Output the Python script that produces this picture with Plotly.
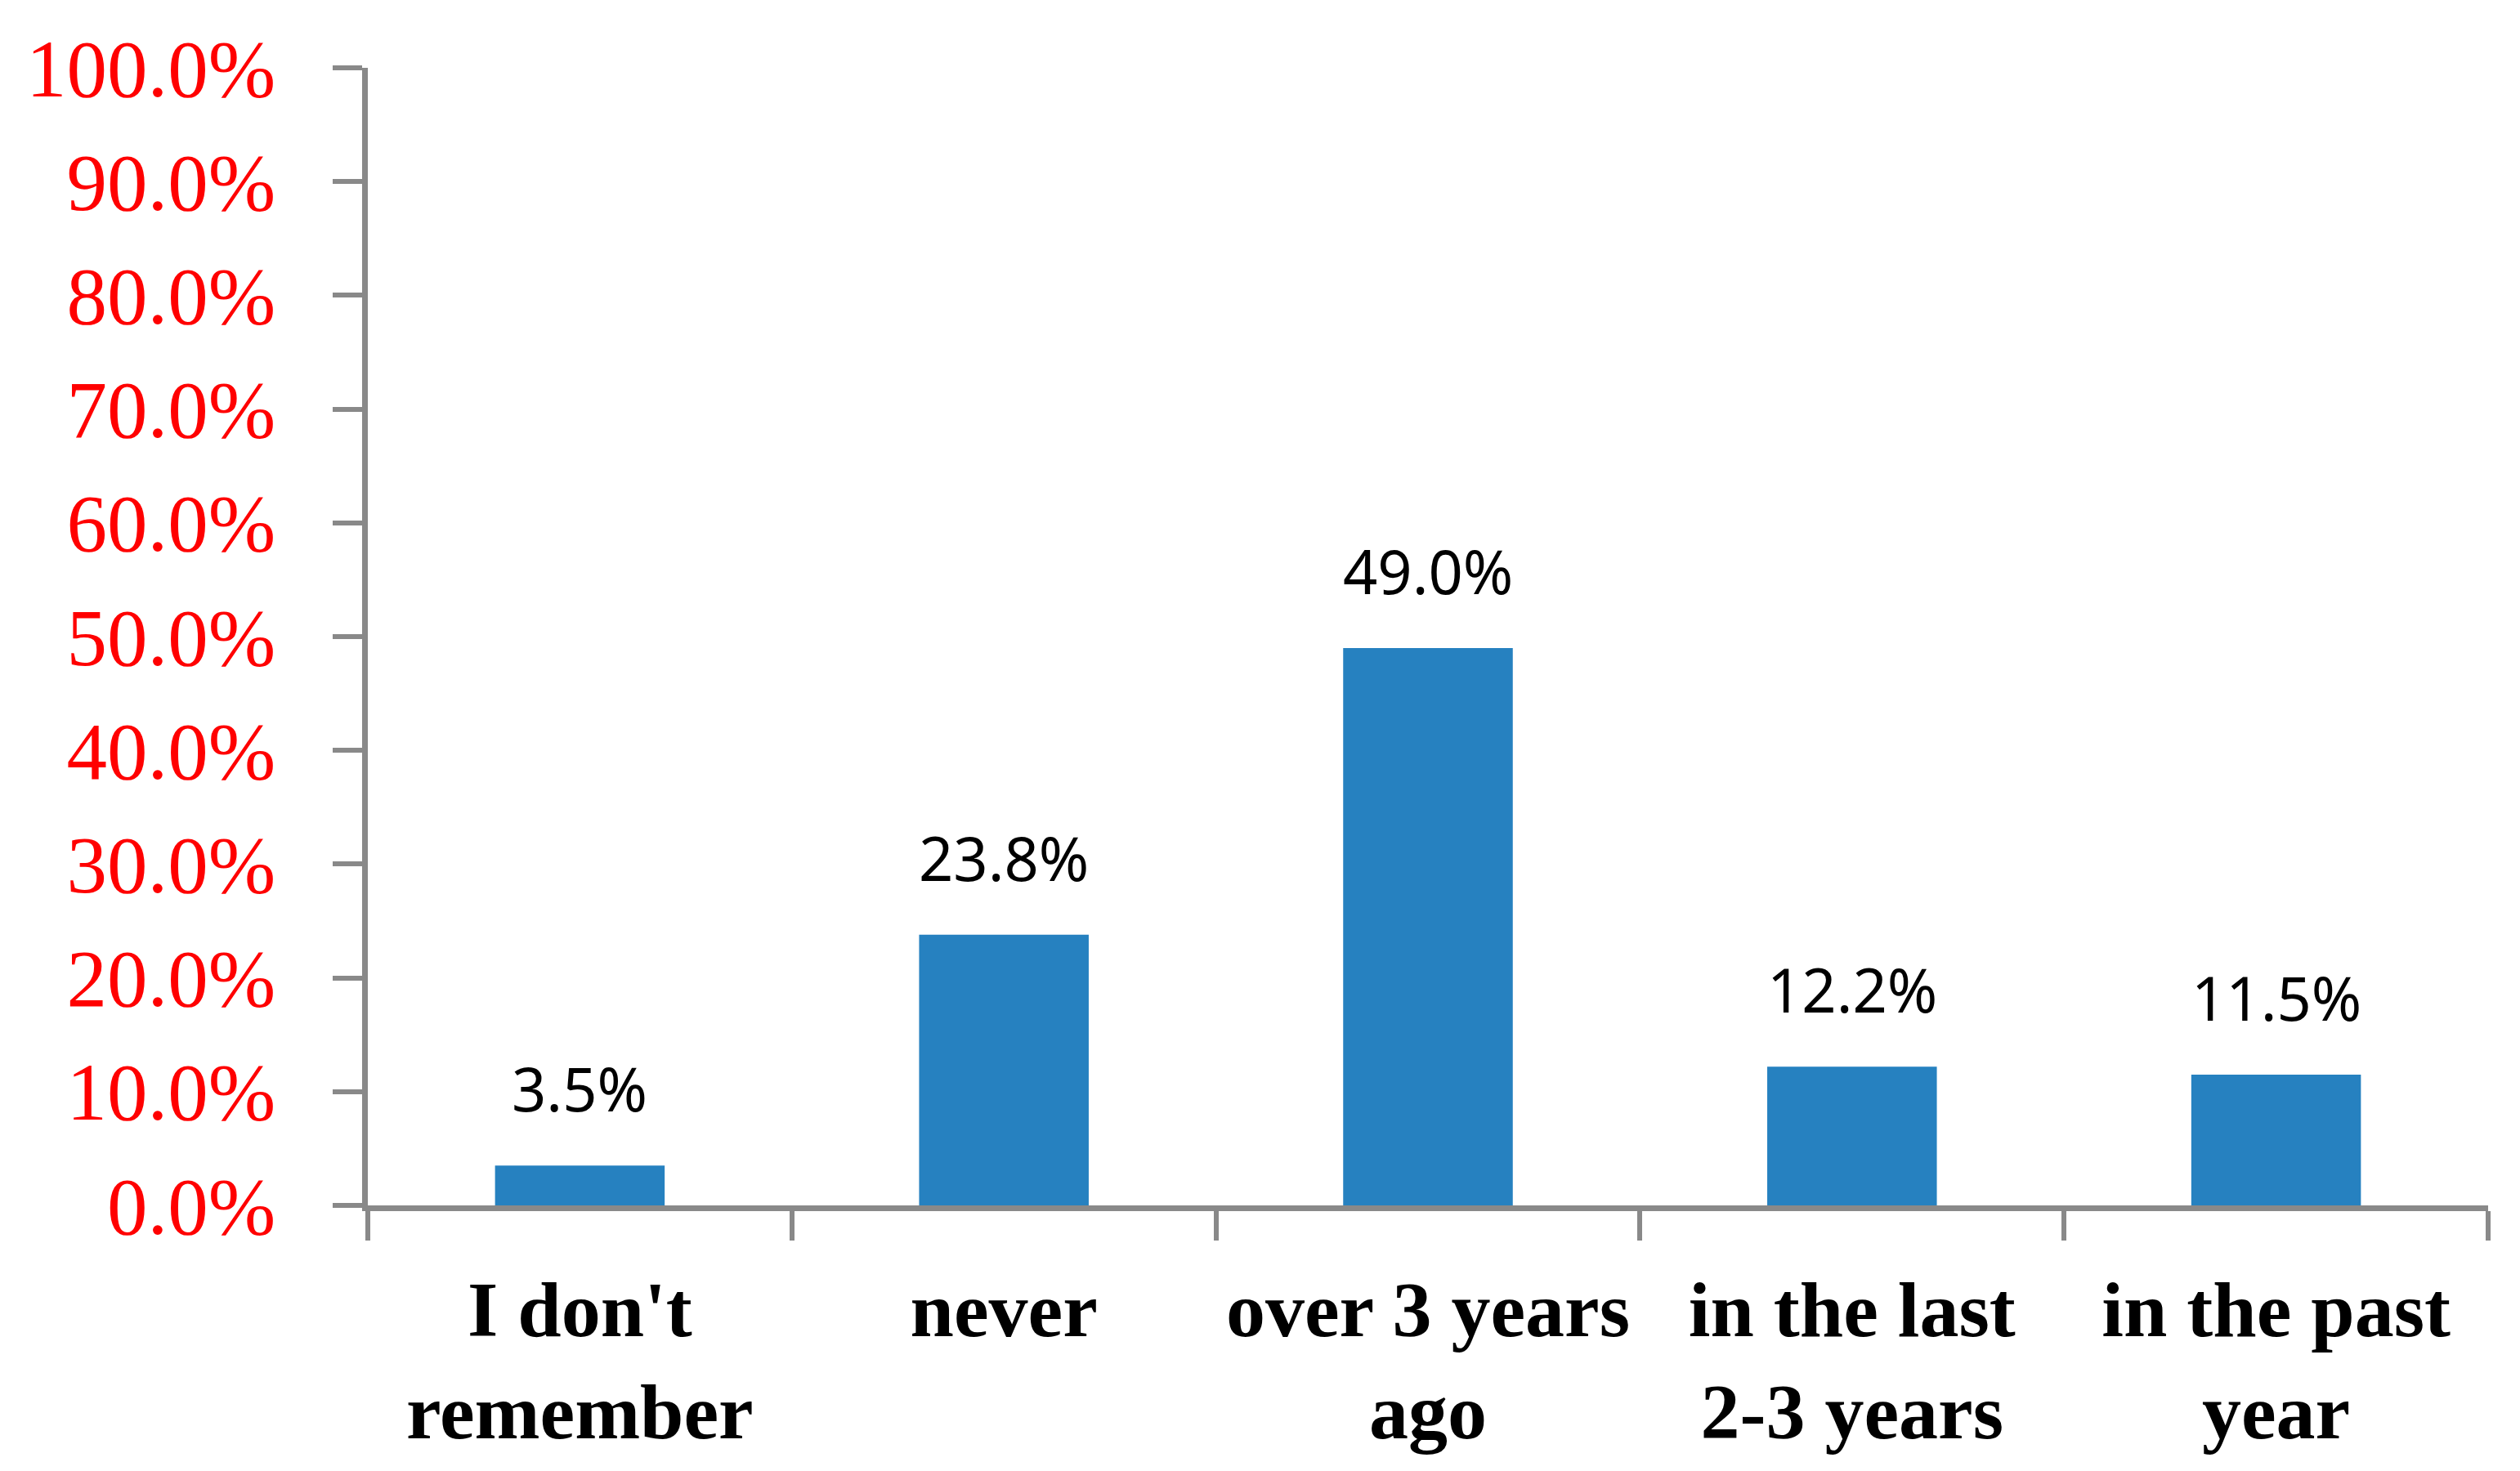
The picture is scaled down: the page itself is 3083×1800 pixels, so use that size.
import plotly.graph_objects as go

categories = ["I don't<br>remember", "never", "over 3 years<br>ago", "in the last<br>2-3 years", "in the past<br>year"]
values = [0.035, 0.238, 0.490, 0.122, 0.115]
value_labels = ["3.5%", "23.8%", "49.0%", "12.2%", "11.5%"]
y_ticks = [0.0, 0.1, 0.2, 0.3, 0.4, 0.5, 0.6, 0.7, 0.8, 0.9, 1.0]

BAR = "#2681C0"
AXIS = "#898989"

fig = go.Figure()
fig.add_trace(go.Bar(x=categories, y=values, marker=dict(color=BAR, line=dict(width=0)),
                     width=0.4, hoverinfo="skip"))

for c, v, t in zip(categories, values, value_labels):
    fig.add_annotation(x=c, y=v, text=t, showarrow=False, yanchor="bottom", yshift=42,
                       font=dict(family="Noto Sans", size=74, color="black"))

fig.update_layout(
    width=3083, height=1800,
    margin=dict(l=442, r=47, t=75, b=333),
    paper_bgcolor="white", plot_bgcolor="white",
    showlegend=False,
    bargap=0.6,
)
fig.update_xaxes(
    showline=True, linecolor=AXIS, linewidth=7,
    ticks="outside", tickson="boundaries", ticklen=36, tickwidth=6, tickcolor=AXIS,
    tickfont=dict(family="Liberation Serif", size=96, color="black", weight="bold"),
    ticklabelstandoff=38,
    showgrid=False, zeroline=False,
)
fig.update_yaxes(
    range=[0, 1], tickvals=y_ticks, tickformat=".1%",
    showline=True, linecolor=AXIS, linewidth=7,
    ticks="outside", ticklen=36, tickwidth=6, tickcolor=AXIS,
    tickfont=dict(family="Liberation Serif", size=99, color="red"),
    ticklabelstandoff=50,
    showgrid=False, zeroline=False,
)

fig.write_html("out.html")
